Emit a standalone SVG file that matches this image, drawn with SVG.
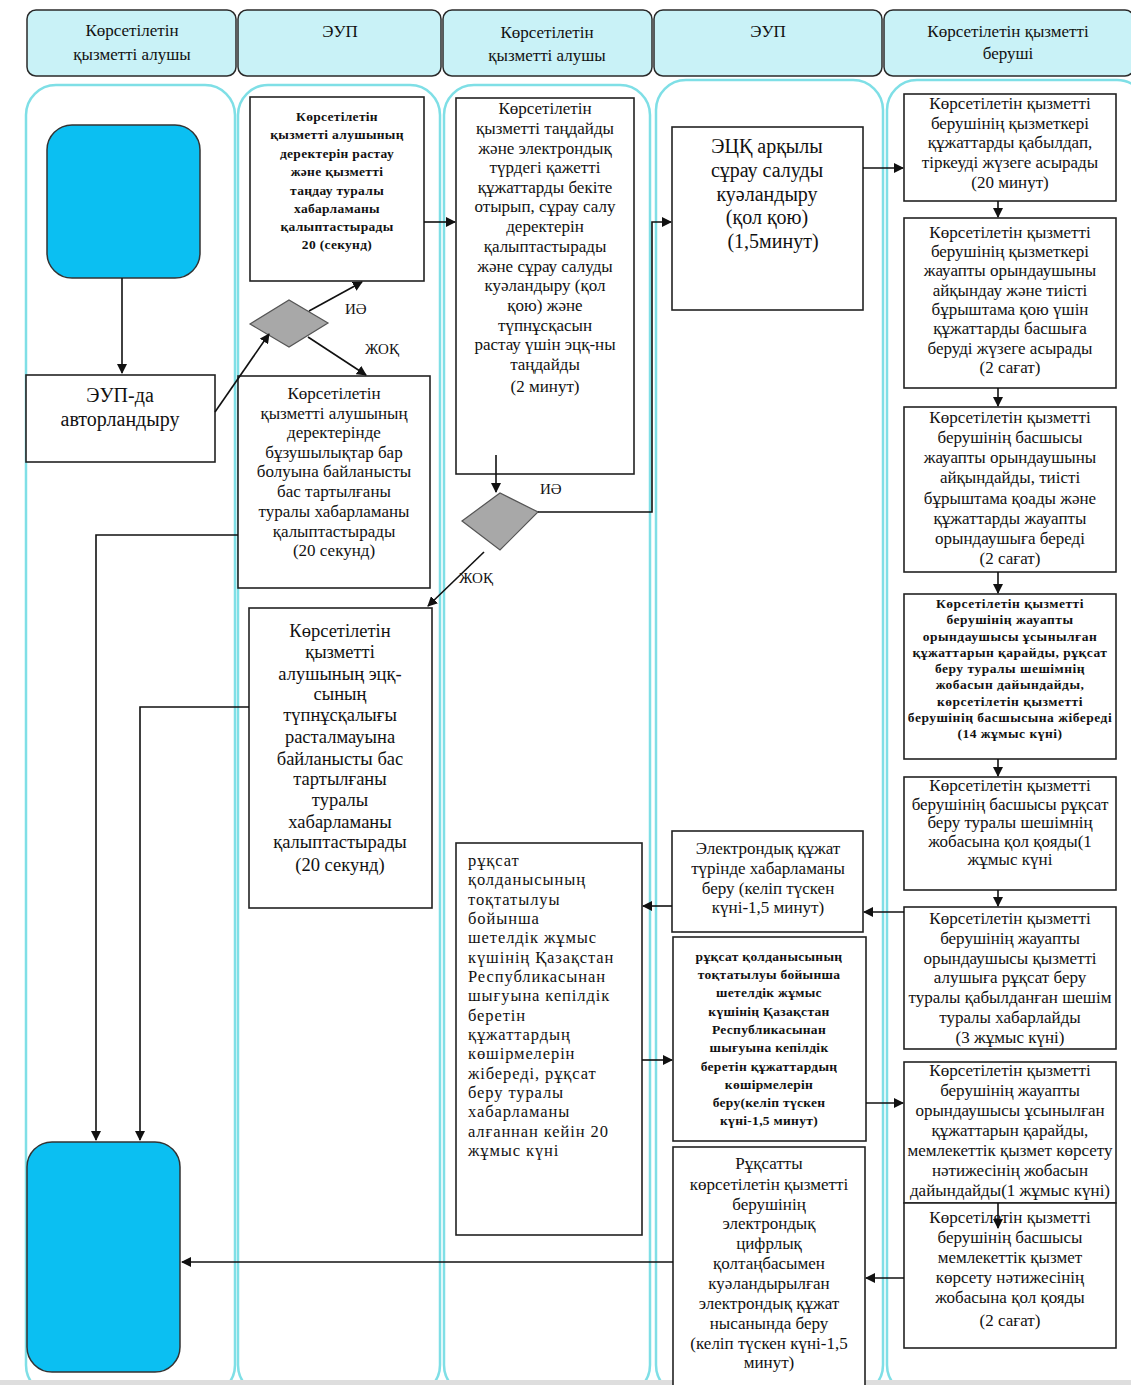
<svg xmlns="http://www.w3.org/2000/svg" width="1131" height="1385" viewBox="0 0 1131 1385">
<defs>
<marker id="ar" markerWidth="10" markerHeight="10" refX="9" refY="5" orient="auto" markerUnits="userSpaceOnUse">
<path d="M0,0 L10,5 L0,10 z" fill="#111"/>
</marker>
<style>
.hdr{fill:#c9f2f7;stroke:#2a2a2a;stroke-width:1.5}
.lane{fill:#fff;stroke:#7fdfe6;stroke-width:2.5}
.box{fill:#fff;stroke:#222;stroke-width:1.6}
.term{fill:#0bbff2;stroke:#333;stroke-width:1.5}
.dia{fill:#a8a8a8;stroke:#555;stroke-width:1.2}
text{font-family:"Liberation Serif","DejaVu Serif",serif;fill:#111}
.c{text-anchor:middle}
.h{font-size:17px}
.t{font-size:17px}
.s{font-size:13.5px;font-weight:bold;letter-spacing:0.3px}
.s2{font-size:13.5px;font-weight:bold;letter-spacing:0.5px}
.lbl{font-size:15px}
.b{font-size:18.5px}
.f{font-size:16.5px;letter-spacing:0.9px}
.e{font-size:20px}
.conn{fill:none;stroke:#111;stroke-width:1.6}
</style>
</defs>
<rect width="1131" height="1385" fill="#fff"/>

<g id="headers">
<rect class="hdr" x="27" y="10" width="209" height="66" rx="9"/>
<text class="c h" x="132" y="36">Көрсетілетін</text>
<text class="c h" x="132" y="60">қызметті алушы</text>
<rect class="hdr" x="238" y="10" width="203" height="66" rx="9"/>
<text class="c h" x="340" y="37">ЭУП</text>
<rect class="hdr" x="443" y="10" width="209" height="66" rx="9"/>
<text class="c h" x="547" y="38">Көрсетілетін</text>
<text class="c h" x="547" y="61">қызметті алушы</text>
<rect class="hdr" x="654" y="10" width="228" height="66" rx="9"/>
<text class="c h" x="768" y="37">ЭУП</text>
<rect class="hdr" x="884" y="10" width="250" height="66" rx="9"/>
<text class="c h" x="1008" y="37">Көрсетілетін қызметті</text>
<text class="c h" x="1008" y="59">беруші</text>
</g>

<g id="lanes">
<rect class="lane" x="26" y="85" width="209" height="1310" rx="30"/>
<rect class="lane" x="238" y="85" width="202" height="1310" rx="30"/>
<rect class="lane" x="444" y="85" width="206" height="1310" rx="30"/>
<rect class="lane" x="656" y="80" width="227" height="1315" rx="30"/>
<rect class="lane" x="887" y="80" width="260" height="1315" rx="30"/>
<rect x="0" y="1380" width="1131" height="5" fill="#dedede"/>
</g>

<g id="start"><rect class="term" x="47" y="125" width="153" height="153" rx="25"/></g>
<g id="end"><rect class="term" x="27" y="1142" width="153" height="230" rx="25"/></g>

<g id="auth">
<rect class="box" x="26" y="375" width="189" height="87"/>
<text class="c e" x="120" y="402">ЭУП-да</text>
<text class="c e" x="120" y="426">авторландыру</text>
</g>

<g id="boxA">
<rect class="box" x="250" y="97" width="174" height="184"/>
<text class="c s" x="337" y="121">Көрсетілетін</text>
<text class="c s" x="337" y="139">қызметті алушының</text>
<text class="c s" x="337" y="158">деректерін растау</text>
<text class="c s" x="337" y="176">және қызметті</text>
<text class="c s" x="337" y="195">таңдау туралы</text>
<text class="c s" x="337" y="213">хабарламаны</text>
<text class="c s" x="337" y="231">қалыптастырады</text>
<text class="c s" x="337" y="249">20 (секунд)</text>
</g>

<g id="dia1"><polygon class="dia" points="250,324 289,300 328,323 289,347"/></g>

<g id="boxB">
<rect class="box" x="238" y="376" width="192" height="212"/>
<text class="c t" x="334" y="399">Көрсетілетін</text>
<text class="c t" x="334" y="419">қызметті алушының</text>
<text class="c t" x="334" y="438">деректерінде</text>
<text class="c t" x="334" y="458">бұзушылықтар бар</text>
<text class="c t" x="334" y="477">болуына байланысты</text>
<text class="c t" x="334" y="497">бас тартылғаны</text>
<text class="c t" x="334" y="517">туралы хабарламаны</text>
<text class="c t" x="334" y="537">қалыптастырады</text>
<text class="c t" x="334" y="556">(20 секунд)</text>
</g>

<g id="boxC">
<rect class="box" x="249" y="608" width="183" height="300"/>
<text class="c b" x="340" y="637">Көрсетілетін</text>
<text class="c b" x="340" y="658">қызметті</text>
<text class="c b" x="340" y="680">алушының эцқ-</text>
<text class="c b" x="340" y="700">сының</text>
<text class="c b" x="340" y="721">түпнұсқалығы</text>
<text class="c b" x="340" y="743">расталмауына</text>
<text class="c b" x="340" y="765">байланысты  бас</text>
<text class="c b" x="340" y="785">тартылғаны</text>
<text class="c b" x="340" y="806">туралы</text>
<text class="c b" x="340" y="828">хабарламаны</text>
<text class="c b" x="340" y="848">қалыптастырады</text>
<text class="c b" x="340" y="871">(20 секунд)</text>
</g>

<g id="boxD">
<rect class="box" x="456" y="98" width="178" height="376"/>
<text class="c t" x="545" y="114">Көрсетілетін</text>
<text class="c t" x="545" y="134">қызметті таңдайды</text>
<text class="c t" x="545" y="154">және электрондық</text>
<text class="c t" x="545" y="173">түрдегі қажетті</text>
<text class="c t" x="545" y="193">құжаттарды  бекіте</text>
<text class="c t" x="545" y="212">отырып, сұрау салу</text>
<text class="c t" x="545" y="232">деректерін</text>
<text class="c t" x="545" y="252">қалыптастырады</text>
<text class="c t" x="545" y="272">және сұрау салуды</text>
<text class="c t" x="545" y="291">куәландыру (қол</text>
<text class="c t" x="545" y="311">қою) және</text>
<text class="c t" x="545" y="331">түпнұсқасын</text>
<text class="c t" x="545" y="350">растау үшін эцқ-ны</text>
<text class="c t" x="545" y="370">таңдайды</text>
<text class="c t" x="545" y="392">(2 минут)</text>
</g>

<g id="dia2"><polygon class="dia" points="462,521 500,493 538,512 500,550"/></g>

<g id="boxE">
<rect class="box" x="672" y="127" width="191" height="183"/>
<text class="c e" x="767" y="153">ЭЦҚ арқылы</text>
<text class="c e" x="767" y="177">сұрау салуды</text>
<text class="c e" x="767" y="201">куәландыру</text>
<text class="c e" x="767" y="224">(қол қою)</text>
<text class="c e" x="773" y="248">(1,5минут)</text>
</g>

<g id="r1">
<rect class="box" x="904" y="94" width="212" height="107"/>
<text class="c t" x="1010" y="109">Көрсетілетін қызметті</text>
<text class="c t" x="1010" y="129">берушінің қызметкері</text>
<text class="c t" x="1010" y="148">құжаттарды қабылдап,</text>
<text class="c t" x="1010" y="168">тіркеуді жүзеге асырады</text>
<text class="c t" x="1010" y="188">(20 минут)</text>
</g>
<g id="r2">
<rect class="box" x="904" y="218" width="212" height="170"/>
<text class="c t" x="1010" y="238">Көрсетілетін қызметті</text>
<text class="c t" x="1010" y="257">берушінің қызметкері</text>
<text class="c t" x="1010" y="276">жауапты орындаушыны</text>
<text class="c t" x="1010" y="296">айқындау және тиісті</text>
<text class="c t" x="1010" y="315">бұрыштама қою үшін</text>
<text class="c t" x="1010" y="334">құжаттарды басшыға</text>
<text class="c t" x="1010" y="354">беруді жүзеге асырады</text>
<text class="c t" x="1010" y="373">(2 сағат)</text>
</g>
<g id="r3">
<rect class="box" x="904" y="407" width="212" height="165"/>
<text class="c t" x="1010" y="423">Көрсетілетін қызметті</text>
<text class="c t" x="1010" y="443">берушінің басшысы</text>
<text class="c t" x="1010" y="463">жауапты орындаушыны</text>
<text class="c t" x="1010" y="483">айқындайды, тиісті</text>
<text class="c t" x="1010" y="504">бұрыштама қоады және</text>
<text class="c t" x="1010" y="524">құжаттарды жауапты</text>
<text class="c t" x="1010" y="544">орындаушыға береді</text>
<text class="c t" x="1010" y="564">(2 сағат)</text>
</g>
<g id="r4">
<rect class="box" x="904" y="594" width="212" height="165"/>
<text class="c s2" x="1010" y="608">Көрсетілетін қызметті</text>
<text class="c s2" x="1010" y="624">берушінің жауапты</text>
<text class="c s2" x="1010" y="641">орындаушысы ұсынылған</text>
<text class="c s2" x="1010" y="657">құжаттарын қарайды, рұқсат</text>
<text class="c s2" x="1010" y="673">беру туралы шешімнің</text>
<text class="c s2" x="1010" y="689">жобасын дайындайды,</text>
<text class="c s2" x="1010" y="706">көрсетілетін қызметті</text>
<text class="c s2" x="1010" y="722">берушінің басшысына жібереді</text>
<text class="c s2" x="1010" y="738">(14 жұмыс күні)</text>
</g>
<g id="r5">
<rect class="box" x="904" y="777" width="212" height="113"/>
<text class="c t" x="1010" y="791">Көрсетілетін қызметті</text>
<text class="c t" x="1010" y="810">берушінің басшысы рұқсат</text>
<text class="c t" x="1010" y="828">беру туралы шешімнің</text>
<text class="c t" x="1010" y="847">жобасына қол қояды(1</text>
<text class="c t" x="1010" y="865">жұмыс күні</text>
</g>
<g id="r6">
<rect class="box" x="904" y="907" width="212" height="142"/>
<text class="c t" x="1010" y="924">Көрсетілетін қызметті</text>
<text class="c t" x="1010" y="944">берушінің жауапты</text>
<text class="c t" x="1010" y="964">орындаушысы қызметті</text>
<text class="c t" x="1010" y="983">алушыға рұқсат беру</text>
<text class="c t" x="1010" y="1003">туралы қабылданған шешім</text>
<text class="c t" x="1010" y="1023">туралы хабарлайды</text>
<text class="c t" x="1010" y="1043">(3 жұмыс күні)</text>
</g>
<g id="r7">
<rect class="box" x="904" y="1062" width="212" height="141"/>
<text class="c t" x="1010" y="1076">Көрсетілетін қызметті</text>
<text class="c t" x="1010" y="1096">берушінің жауапты</text>
<text class="c t" x="1010" y="1116">орындаушысы ұсынылған</text>
<text class="c t" x="1010" y="1136">құжаттарын қарайды,</text>
<text class="c t" x="1010" y="1156">мемлекеттік қызмет көрсету</text>
<text class="c t" x="1010" y="1176">нәтижесінің жобасын</text>
<text class="c t" x="1010" y="1196">дайындайды(1 жұмыс күні)</text>
</g>
<g id="r8">
<rect class="box" x="904" y="1203" width="212" height="145"/>
<text class="c t" x="1010" y="1223">Көрсетілетін қызметті</text>
<text class="c t" x="1010" y="1243">берушінің басшысы</text>
<text class="c t" x="1010" y="1263">мемлекеттік қызмет</text>
<text class="c t" x="1010" y="1283">көрсету нәтижесінің</text>
<text class="c t" x="1010" y="1303">жобасына қол қояды</text>
<text class="c t" x="1010" y="1326">(2 сағат)</text>
</g>

<g id="e2">
<rect class="box" x="672" y="831" width="191" height="101"/>
<text class="c t" x="768" y="854">Электрондық құжат</text>
<text class="c t" x="768" y="874">түрінде хабарламаны</text>
<text class="c t" x="768" y="894">беру  (келіп түскен</text>
<text class="c t" x="768" y="913">күні-1,5 минут)</text>
</g>
<g id="e3">
<rect class="box" x="673" y="937" width="193" height="204"/>
<text class="c s" x="769" y="961">рұқсат қолданысының</text>
<text class="c s" x="769" y="979">тоқтатылуы бойынша</text>
<text class="c s" x="769" y="997">шетелдік жұмыс</text>
<text class="c s" x="769" y="1016">күшінің Қазақстан</text>
<text class="c s" x="769" y="1034">Республикасынан</text>
<text class="c s" x="769" y="1052">шығуына кепілдік</text>
<text class="c s" x="769" y="1071">беретін құжаттардың</text>
<text class="c s" x="769" y="1089">көшірмелерін</text>
<text class="c s" x="769" y="1107">беру(келіп түскен</text>
<text class="c s" x="769" y="1125">күні-1,5 минут)</text>
</g>
<g id="e4">
<rect class="box" x="673" y="1147" width="192" height="240"/>
<text class="c t" x="769" y="1169">Рұқсатты</text>
<text class="c t" x="769" y="1190">көрсетілетін қызметті</text>
<text class="c t" x="769" y="1210">берушінің</text>
<text class="c t" x="769" y="1229">электрондық</text>
<text class="c t" x="769" y="1249">цифрлық</text>
<text class="c t" x="769" y="1269">қолтаңбасымен</text>
<text class="c t" x="769" y="1289">куәландырылған</text>
<text class="c t" x="769" y="1309">электрондық құжат</text>
<text class="c t" x="769" y="1329">нысанында беру</text>
<text class="c t" x="769" y="1349">(келіп түскен күні-1,5</text>
<text class="c t" x="769" y="1368">минут)</text>
</g>

<g id="boxF">
<rect class="box" x="456" y="843" width="186" height="392"/>
<text class="f" x="468" y="866">рұқсат</text>
<text class="f" x="468" y="885.3">қолданысының</text>
<text class="f" x="468" y="904.7">тоқтатылуы</text>
<text class="f" x="468" y="924">бойынша</text>
<text class="f" x="468" y="943.3">шетелдік жұмыс</text>
<text class="f" x="468" y="962.7">күшінің Қазақстан</text>
<text class="f" x="468" y="982">Республикасынан</text>
<text class="f" x="468" y="1001.3">шығуына кепілдік</text>
<text class="f" x="468" y="1020.7">беретін</text>
<text class="f" x="468" y="1040">құжаттардың</text>
<text class="f" x="468" y="1059.3">көшірмелерін</text>
<text class="f" x="468" y="1078.7">жібереді, рұқсат</text>
<text class="f" x="468" y="1098">беру туралы</text>
<text class="f" x="468" y="1117.3">хабарламаны</text>
<text class="f" x="468" y="1136.7">алғаннан кейін 20</text>
<text class="f" x="468" y="1156">жұмыс күні</text>
</g>

<g id="connectors">
<path class="conn" d="M122,278 V373" marker-end="url(#ar)"/>
<path class="conn" d="M215,412 L269,334" marker-end="url(#ar)"/>
<path class="conn" d="M309,311 L362,282" marker-end="url(#ar)"/>
<path class="conn" d="M308,337 L366,375" marker-end="url(#ar)"/>
<path class="conn" d="M424,222 H455" marker-end="url(#ar)"/>
<path class="conn" d="M496,455 V492" marker-end="url(#ar)"/>
<path class="conn" d="M538,512 H652 V222 H671" marker-end="url(#ar)"/>
<path class="conn" d="M484,552 L428,606" marker-end="url(#ar)"/>
<path class="conn" d="M863,168 H903" marker-end="url(#ar)"/>
<path class="conn" d="M998,201 V217" marker-end="url(#ar)"/>
<path class="conn" d="M998,388 V406" marker-end="url(#ar)"/>
<path class="conn" d="M998,572 V593" marker-end="url(#ar)"/>
<path class="conn" d="M998,759 V776" marker-end="url(#ar)"/>
<path class="conn" d="M998,890 V906" marker-end="url(#ar)"/>
<path class="conn" d="M904,912 H864" marker-end="url(#ar)"/>
<path class="conn" d="M672,906 H643" marker-end="url(#ar)"/>
<path class="conn" d="M642,1060 H672" marker-end="url(#ar)"/>
<path class="conn" d="M866,1103 H903" marker-end="url(#ar)"/>
<path class="conn" d="M998,1203 V1228" marker-end="url(#ar)"/>
<path class="conn" d="M904,1278 H866" marker-end="url(#ar)"/>
<path class="conn" d="M673,1262 H182" marker-end="url(#ar)"/>
<path class="conn" d="M238,535 H96 V1140" marker-end="url(#ar)"/>
<path class="conn" d="M249,707 H140 V1140" marker-end="url(#ar)"/>
<text class="lbl" x="345" y="314">ИӘ</text>
<text class="lbl" x="365" y="354">ЖОҚ</text>
<text class="lbl" x="540" y="494">ИӘ</text>
<text class="lbl" x="459" y="583">ЖОҚ</text>
</g>
</svg>
